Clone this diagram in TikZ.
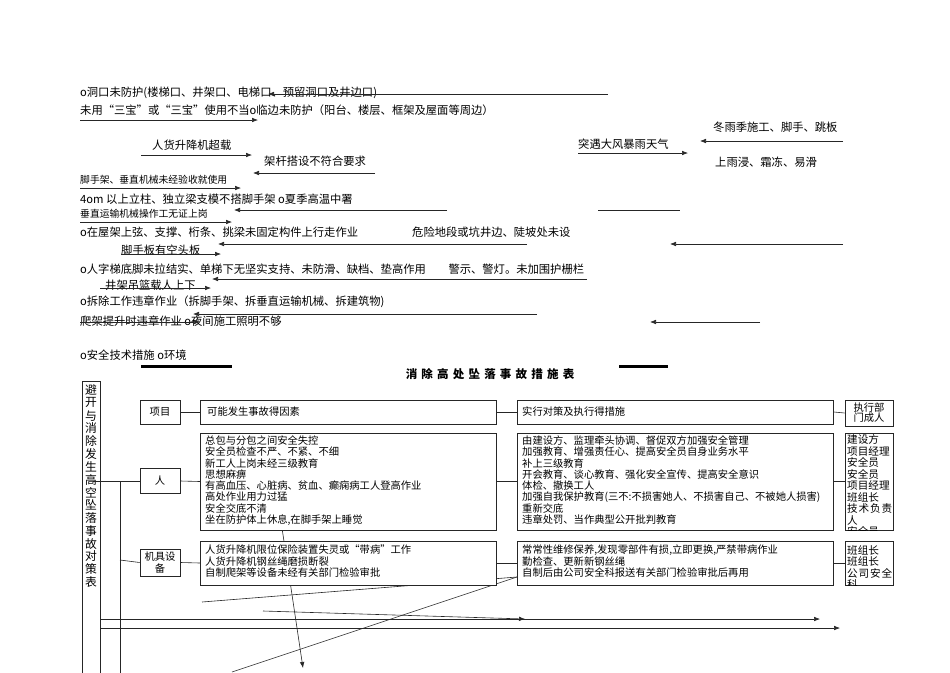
\documentclass[tikz,border=0pt]{standalone}
\usepackage{fontspec}
\setmainfont{Noto Sans CJK SC}
\usetikzlibrary{arrows.meta}
\newcommand\tk{\hspace{4.2pt}}
\begin{document}
\begin{tikzpicture}[x=1pt,y=-1pt,
  txt/.style={anchor=west,inner sep=0pt,font=\fontsize{11.3}{12}\selectfont},
  stxt/.style={anchor=west,inner sep=0pt,font=\fontsize{9.8}{11}\selectfont},
  arr/.style={draw=black!85,line width=0.6pt,-{Latex[length=6pt,width=4.6pt]}},
  ln/.style={draw=black!85,line width=0.6pt},
  thick line/.style={draw=black,line width=3pt},
  box/.style={draw=black!85,line width=0.8pt,fill=white},
  btxt/.style={anchor=north west,inner sep=0pt,align=left,font=\fontsize{10.3}{11.3}\selectfont},
  ctxt/.style={inner sep=0pt,align=center,font=\fontsize{10.3}{11}\selectfont},
  vchar/.style={inner sep=0pt,font=\fontsize{11.8}{12}\selectfont}
]
\useasboundingbox (0,0) rectangle (950,672);
\clip (0,0) rectangle (950,672);

% ---------- upper free text block ----------
\node[txt] (t1) at (80,93) {ο洞口未防护(楼梯口、井架口、电梯口、预留洞口及井边口)};
\coordinate (a1s) at (608,94); \coordinate (a1e) at (268,94);
\draw[arr] (a1s) -- (a1e);

\node[txt] (t2) at (80,110) {未用“三宝”或“三宝”使用不当ο临边未防护（阳台、楼层、框架及屋面等周边）};
\coordinate (a2s) at (80,120); \coordinate (a2e) at (258,120);
\draw[arr] (a2s) -- (a2e);

\node[txt] (t3) at (152,145) {人货升降机超载};
\coordinate (a3s) at (141,155); \coordinate (a3e) at (252,155);
\draw[arr] (a3s) -- (a3e);

\node[txt] (t4) at (264,161) {架杆搭设不符合要求};
\coordinate (a4s) at (375,173); \coordinate (a4e) at (253,173);
\draw[arr] (a4s) -- (a4e);

\node[stxt] (t5) at (80,180) {脚手架、垂直机械未经验收就使用};
\coordinate (a5s) at (80,188); \coordinate (a5e) at (241,188);
\draw[arr] (a5s) -- (a5e);

\node[txt] (t6) at (80,199) {4οm 以上立柱、独立梁支模不搭脚手架 ο夏季高温中署};
\coordinate (a6s) at (447,210); \coordinate (a6e) at (234,210);
\draw[arr] (a6s) -- (a6e);
\coordinate (l6s) at (598,210); \coordinate (l6e) at (680,210);
\draw[ln] (l6s) -- (l6e);

\node[stxt] (t7) at (80,214) {垂直运输机械操作工无证上岗};
\coordinate (a7s) at (80,222); \coordinate (a7e) at (232,222);
\draw[arr] (a7s) -- (a7e);

\node[txt] (t8) at (80,232) {ο在屋架上弦、支撑、桁条、挑梁未固定构件上行走作业};
\node[txt] (t8b) at (412,232) {危险地段或坑井边、陡坡处未设};
\coordinate (a8s) at (527,244); \coordinate (a8e) at (218,244);
\draw[arr] (a8s) -- (a8e);
\coordinate (a8bs) at (843,244); \coordinate (a8be) at (670,244);
\draw[arr] (a8bs) -- (a8be);

\node[txt] (t9) at (121,250) {脚手板有空头板};
\coordinate (a9s) at (121,254); \coordinate (a9e) at (221,254);
\draw[arr] (a9s) -- (a9e);

\node[txt] (t10) at (80,269) {ο人字梯底脚未拉结实、单梯下无坚实支持、未防滑、缺档、垫高作用　　警示、警灯。未加围护栅栏};
\coordinate (a10s) at (587,279); \coordinate (a10e) at (212,279);
\draw[arr] (a10s) -- (a10e);

\node[txt] (t11) at (105,285) {井架吊篮载人上下};
\coordinate (a11s) at (100,288); \coordinate (a11e) at (211,288);
\draw[arr] (a11s) -- (a11e);

\node[txt] (t12) at (80,302) {ο拆除工作违章作业（拆脚手架、拆垂直运输机械、拆建筑物)};
\coordinate (a12s) at (537,314); \coordinate (a12e) at (193,314);
\draw[arr] (a12s) -- (a12e);
\coordinate (a12bs) at (760,322); \coordinate (a12be) at (650,322);
\draw[arr] (a12bs) -- (a12be);

\node[txt] (t13) at (80,321) {爬架提升时违章作业 ο夜间施工照明不够};
\coordinate (a13s) at (80,322); \coordinate (a13e) at (200,322);
\draw[arr] (a13s) -- (a13e);

\node[txt] (t14) at (80,355) {ο安全技术措施 ο环境};
\coordinate (k1s) at (141,366); \coordinate (k1e) at (232,366);
\draw[thick line] (k1s) -- (k1e);
\coordinate (k2s) at (619,366); \coordinate (k2e) at (668,366);
\draw[thick line] (k2s) -- (k2e);

% right group
\node[txt] (r1) at (713,127) {冬雨季施工、脚手、跳板};
\coordinate (b1s) at (843,141); \coordinate (b1e) at (700,141);
\draw[arr] (b1s) -- (b1e);
\node[txt] (r2) at (578,144) {突遇大风暴雨天气};
\coordinate (b2s) at (578,153); \coordinate (b2e) at (688,153);
\draw[arr] (b2s) -- (b2e);
\node[txt] (r3) at (715,162) {上雨浸、霜冻、易滑};

% title
\node[inner sep=0pt,font=\fontsize{11.5}{12}\selectfont\bfseries] (title) at (490,374)
  {消\tk 除\tk 高\tk 处\tk 坠\tk 落\tk 事\tk 故\tk 措\tk 施\tk 表};

% ---------- table ----------
\draw[box] (82,381) rectangle (100,690);
\node[inner sep=0pt,minimum width=18pt,minimum height=300pt] (side) at (91,531) {};
\foreach \c [count=\i] in {避,开,与,消,除,发,生,高,空,坠,落,事,故,对,策,表}
  \node[vchar] (v\i) at (91,{390+12.8*(\i-1)}) {\c};

% free lines lying under the boxes
\coordinate (h1s) at (101,619); \coordinate (h1e) at (820,619);
\draw[arr] (h1s) -- (h1e);
\coordinate (h2s) at (101,628); \coordinate (h2e) at (840,628);
\draw[arr] (h2s) -- (h2e);
\coordinate (h3s) at (263,611); \coordinate (h3e) at (525,619);
\draw[arr] (h3s) -- (h3e);
\coordinate (dA) at (202,602); \coordinate (dB) at (232,672); \coordinate (dX) at (517,577);
\draw[ln] (dA) -- (dX);
\draw[ln] (dB) -- (dX);
\coordinate (cS) at (282,528); \coordinate (cE) at (303,668);
\draw[arr] (cS) -- (cE);

% trunk lines
\coordinate (j0) at (93,481); \coordinate (j1) at (120,481);
\coordinate (j2) at (120,560); \coordinate (j3) at (120,690);
\draw[ln] (j1) -- (j3);

% header row
\node[box,ctxt,minimum width=40pt,minimum height=24pt] (xm) at (160,412) {项目};
\node[box,anchor=west,minimum width=296pt,minimum height=24pt,inner sep=0pt] (ys) at (200,412) {};
\node[anchor=west,inner sep=0pt,font=\fontsize{10.3}{11}\selectfont] (yst) at (207,412) {可能发生事故得因素};
\node[box,anchor=west,minimum width=316pt,minimum height=24pt,inner sep=0pt] (cs) at (517,412) {};
\node[anchor=west,inner sep=0pt,font=\fontsize{10.3}{11}\selectfont] (cst) at (522,412) {实行对策及执行得措施};
\node[box,ctxt,minimum width=48pt,minimum height=26pt,font=\fontsize{10.3}{10}\selectfont] (zx) at (869,413) {执行部\\门成人};
\draw[ln] (xm.east) -- (ys.west);
\draw[ln] (ys.east) -- (cs.west);
\draw[ln] (cs.east) -- (zx.west);

% person row
\node[box,ctxt,minimum width=40pt,minimum height=25pt] (ren) at (160,481) {人};
\draw[ln] (j0) -- (ren.west);
\draw[box] (200,433) rectangle (496,530);
\node[inner sep=0pt,minimum width=296pt,minimum height=97pt] (rf) at (348,481.5) {};
\node[btxt] (rft) at (205,435.5) {总包与分包之间安全失控\\安全员检查不严、不紧、不细\\新工人上岗未经三级教育\\思想麻痹\\有高血压、心脏病、贫血、癫痫病工人登高作业\\高处作业用力过猛\\安全交底不清\\坐在防护体上休息,在脚手架上睡觉};
\draw[box] (517,433) rectangle (833,530);
\node[inner sep=0pt,minimum width=316pt,minimum height=97pt] (rc) at (675,481.5) {};
\node[btxt] (rct) at (522,435.5) {由建设方、监理牵头协调、督促双方加强安全管理\\加强教育、增强责任心、提高安全员自身业务水平\\补上三级教育\\开会教育、谈心教育、强化安全宣传、提高安全意识\\体检、撤换工人\\加强自我保护教育(三不:不损害她人、不损害自己、不被她人损害)\\重新交底\\违章处罚、当作典型公开批判教育};
\draw[box] (845,433) rectangle (893,530);
\node[inner sep=0pt,minimum width=48pt,minimum height=97pt] (rz) at (869,481.5) {};
\begin{scope}
  \clip (845,433) rectangle (893,530);
  \node[anchor=north west,inner sep=0pt,font=\fontsize{10.6}{11.5}\selectfont] (rzt) at (847,434.5)
    {\parbox[t]{45pt}{\raggedright 建设方\\项目经理\\安全员\\安全员\\项目经理\\班组长\\\makebox[45pt][s]{技\hfill 术\hfill 负\hfill 责}\\人\\安全员}};
\end{scope}
\draw[ln] (ren.east) -- (rf.west);
\draw[ln] (rf.east) -- (rc.west);
\draw[ln] (rc.east) -- (rz.west);

% machine row
\node[box,ctxt,minimum width=40pt,minimum height=27pt,font=\fontsize{10.3}{11.5}\selectfont] (jj) at (160,562.5) {机具设\\备};
\draw[ln] (j2) -- (jj.west);
\draw[box] (200,541) rectangle (496,585);
\node[inner sep=0pt,minimum width=296pt,minimum height=44pt] (jf) at (348,563) {};
\node[btxt,font=\fontsize{10.3}{11.6}\selectfont] (jft) at (205,544.5) {人货升降机限位保险装置失灵或“带病”工作\\人货升降机钢丝绳磨损断裂\\自制爬架等设备未经有关部门检验审批};
\draw[box] (517,541) rectangle (833,585);
\node[inner sep=0pt,minimum width=316pt,minimum height=44pt] (jc) at (675,563) {};
\node[btxt,font=\fontsize{10.3}{11.6}\selectfont] (jct) at (522,544.5) {常常性维修保养,发现零部件有损,立即更换,严禁带病作业\\勤检查、更新新钢丝绳\\自制后由公司安全科报送有关部门检验审批后再用};
\draw[box] (845,541) rectangle (893,585);
\node[inner sep=0pt,minimum width=48pt,minimum height=44pt] (jz) at (869,563) {};
\begin{scope}
  \clip (845,541) rectangle (893,585);
  \node[anchor=north west,inner sep=0pt,font=\fontsize{10.6}{11.5}\selectfont] (jzt) at (847,545)
    {\parbox[t]{45pt}{\raggedright 班组长\\班组长\\\makebox[45pt][s]{公\hfill 司\hfill 安\hfill 全}\\科}};
\end{scope}
\draw[ln] (jj.east) -- (jf.west);
\draw[ln] (jf.east) -- (jc.west);
\draw[ln] (jc.east) -- (jz.west);
\end{tikzpicture}
\end{document}
